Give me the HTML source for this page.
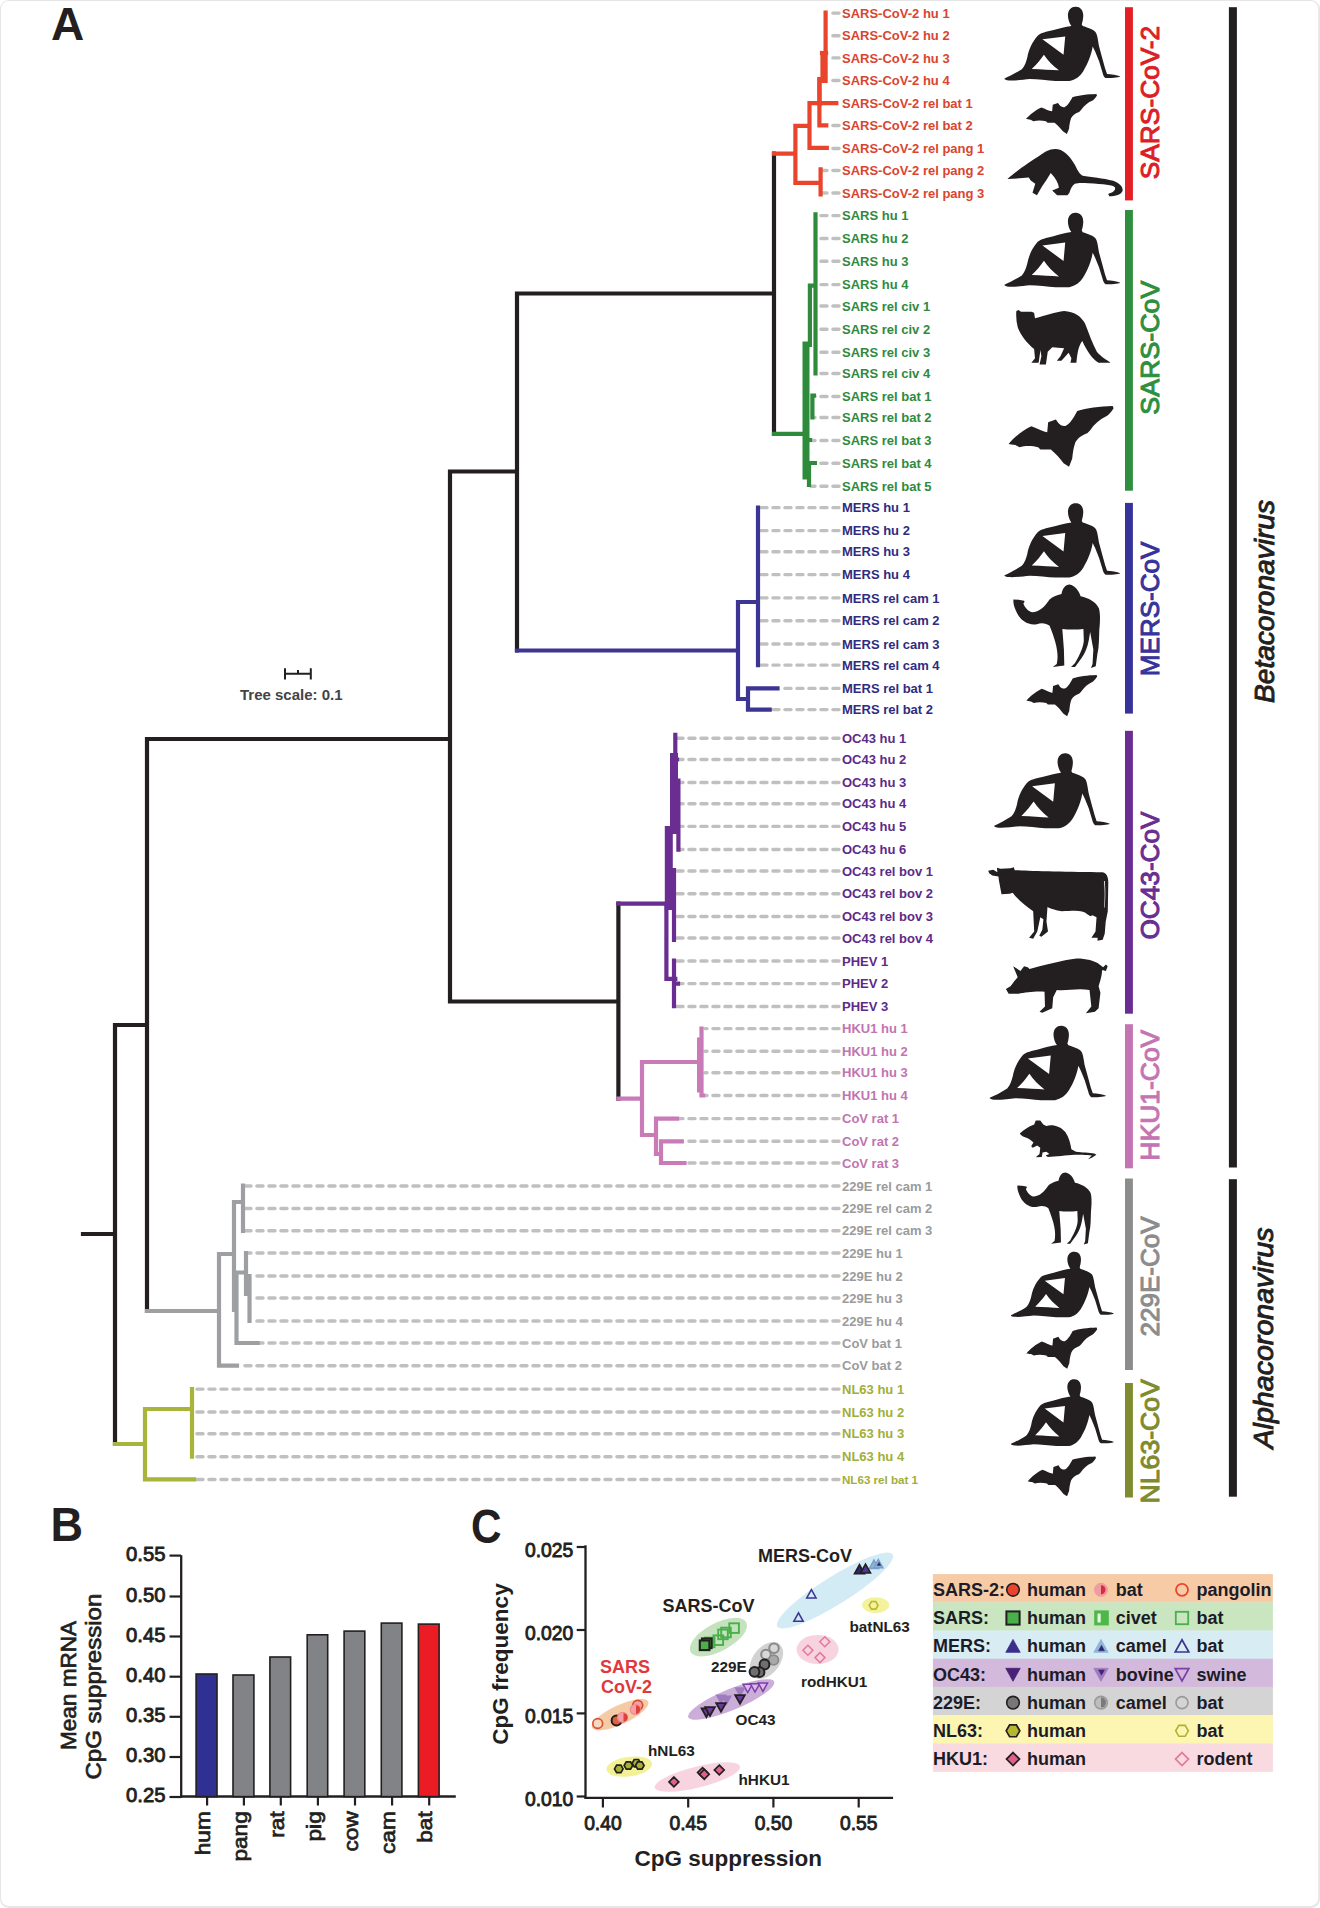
<!DOCTYPE html>
<html><head><meta charset="utf-8"><style>
html,body{margin:0;padding:0;background:#fff;}
svg{display:block;font-family:"Liberation Sans", sans-serif;}
</style></head><body>
<svg width="1320" height="1908" viewBox="0 0 1320 1908">
<rect x="0" y="0" width="1320" height="1908" rx="9" ry="9" fill="#e6e6e6"/>
<rect x="1" y="1" width="1317.2" height="1905" rx="8" ry="8" fill="#fff"/>
<text x="51" y="40" font-size="46" font-weight="bold" fill="#231f20" text-anchor="start" >A</text>
<text transform="translate(50.5,1540.8) scale(0.93,1)" font-size="48.5" font-weight="bold" fill="#231f20">B</text>
<text transform="translate(471,1542.8) scale(0.88,1)" font-size="48" font-weight="bold" fill="#231f20">C</text>
<path d="M839,13.1 H828" stroke="#c0c0c0" stroke-width="3.4" stroke-linecap="round" stroke-dasharray="6.1 5.9" fill="none"/>
<path d="M839,35.8 H828" stroke="#c0c0c0" stroke-width="3.4" stroke-linecap="round" stroke-dasharray="6.1 5.9" fill="none"/>
<path d="M839,57.9 H828" stroke="#c0c0c0" stroke-width="3.4" stroke-linecap="round" stroke-dasharray="6.1 5.9" fill="none"/>
<path d="M839,80.5 H828" stroke="#c0c0c0" stroke-width="3.4" stroke-linecap="round" stroke-dasharray="6.1 5.9" fill="none"/>
<path d="M839,125.5 H828" stroke="#c0c0c0" stroke-width="3.4" stroke-linecap="round" stroke-dasharray="6.1 5.9" fill="none"/>
<path d="M839,148.5 H828" stroke="#c0c0c0" stroke-width="3.4" stroke-linecap="round" stroke-dasharray="6.1 5.9" fill="none"/>
<path d="M839,170.5 H822" stroke="#c0c0c0" stroke-width="3.4" stroke-linecap="round" stroke-dasharray="6.1 5.9" fill="none"/>
<path d="M839,193 H822" stroke="#c0c0c0" stroke-width="3.4" stroke-linecap="round" stroke-dasharray="6.1 5.9" fill="none"/>
<path d="M839,215.6 H817.5" stroke="#c0c0c0" stroke-width="3.4" stroke-linecap="round" stroke-dasharray="6.1 5.9" fill="none"/>
<path d="M839,238.5 H817.5" stroke="#c0c0c0" stroke-width="3.4" stroke-linecap="round" stroke-dasharray="6.1 5.9" fill="none"/>
<path d="M839,261.3 H817.5" stroke="#c0c0c0" stroke-width="3.4" stroke-linecap="round" stroke-dasharray="6.1 5.9" fill="none"/>
<path d="M839,284.6 H817.5" stroke="#c0c0c0" stroke-width="3.4" stroke-linecap="round" stroke-dasharray="6.1 5.9" fill="none"/>
<path d="M839,306 H817.5" stroke="#c0c0c0" stroke-width="3.4" stroke-linecap="round" stroke-dasharray="6.1 5.9" fill="none"/>
<path d="M839,329.2 H817.5" stroke="#c0c0c0" stroke-width="3.4" stroke-linecap="round" stroke-dasharray="6.1 5.9" fill="none"/>
<path d="M839,352.3 H817.5" stroke="#c0c0c0" stroke-width="3.4" stroke-linecap="round" stroke-dasharray="6.1 5.9" fill="none"/>
<path d="M839,373.5 H817.5" stroke="#c0c0c0" stroke-width="3.4" stroke-linecap="round" stroke-dasharray="6.1 5.9" fill="none"/>
<path d="M839,396.5 H814" stroke="#c0c0c0" stroke-width="3.4" stroke-linecap="round" stroke-dasharray="6.1 5.9" fill="none"/>
<path d="M839,417.5 H814" stroke="#c0c0c0" stroke-width="3.4" stroke-linecap="round" stroke-dasharray="6.1 5.9" fill="none"/>
<path d="M839,440.5 H811" stroke="#c0c0c0" stroke-width="3.4" stroke-linecap="round" stroke-dasharray="6.1 5.9" fill="none"/>
<path d="M839,463.2 H815" stroke="#c0c0c0" stroke-width="3.4" stroke-linecap="round" stroke-dasharray="6.1 5.9" fill="none"/>
<path d="M839,486.2 H811" stroke="#c0c0c0" stroke-width="3.4" stroke-linecap="round" stroke-dasharray="6.1 5.9" fill="none"/>
<path d="M839,507.6 H760" stroke="#c0c0c0" stroke-width="3.4" stroke-linecap="round" stroke-dasharray="6.1 5.9" fill="none"/>
<path d="M839,530.6 H760" stroke="#c0c0c0" stroke-width="3.4" stroke-linecap="round" stroke-dasharray="6.1 5.9" fill="none"/>
<path d="M839,551.8 H760" stroke="#c0c0c0" stroke-width="3.4" stroke-linecap="round" stroke-dasharray="6.1 5.9" fill="none"/>
<path d="M839,574.6 H760" stroke="#c0c0c0" stroke-width="3.4" stroke-linecap="round" stroke-dasharray="6.1 5.9" fill="none"/>
<path d="M839,597.9 H760" stroke="#c0c0c0" stroke-width="3.4" stroke-linecap="round" stroke-dasharray="6.1 5.9" fill="none"/>
<path d="M839,620.8 H760" stroke="#c0c0c0" stroke-width="3.4" stroke-linecap="round" stroke-dasharray="6.1 5.9" fill="none"/>
<path d="M839,644 H760" stroke="#c0c0c0" stroke-width="3.4" stroke-linecap="round" stroke-dasharray="6.1 5.9" fill="none"/>
<path d="M839,665.1 H760" stroke="#c0c0c0" stroke-width="3.4" stroke-linecap="round" stroke-dasharray="6.1 5.9" fill="none"/>
<path d="M839,688.4 H779" stroke="#c0c0c0" stroke-width="3.4" stroke-linecap="round" stroke-dasharray="6.1 5.9" fill="none"/>
<path d="M839,709.6 H771" stroke="#c0c0c0" stroke-width="3.4" stroke-linecap="round" stroke-dasharray="6.1 5.9" fill="none"/>
<path d="M839,738.3 H677" stroke="#c0c0c0" stroke-width="3.4" stroke-linecap="round" stroke-dasharray="6.1 5.9" fill="none"/>
<path d="M839,759.5 H679" stroke="#c0c0c0" stroke-width="3.4" stroke-linecap="round" stroke-dasharray="6.1 5.9" fill="none"/>
<path d="M839,782.5 H680" stroke="#c0c0c0" stroke-width="3.4" stroke-linecap="round" stroke-dasharray="6.1 5.9" fill="none"/>
<path d="M839,803.7 H680" stroke="#c0c0c0" stroke-width="3.4" stroke-linecap="round" stroke-dasharray="6.1 5.9" fill="none"/>
<path d="M839,826.4 H680" stroke="#c0c0c0" stroke-width="3.4" stroke-linecap="round" stroke-dasharray="6.1 5.9" fill="none"/>
<path d="M839,849.5 H680" stroke="#c0c0c0" stroke-width="3.4" stroke-linecap="round" stroke-dasharray="6.1 5.9" fill="none"/>
<path d="M839,871 H677" stroke="#c0c0c0" stroke-width="3.4" stroke-linecap="round" stroke-dasharray="6.1 5.9" fill="none"/>
<path d="M839,893.8 H677" stroke="#c0c0c0" stroke-width="3.4" stroke-linecap="round" stroke-dasharray="6.1 5.9" fill="none"/>
<path d="M839,916.5 H677" stroke="#c0c0c0" stroke-width="3.4" stroke-linecap="round" stroke-dasharray="6.1 5.9" fill="none"/>
<path d="M839,938 H677" stroke="#c0c0c0" stroke-width="3.4" stroke-linecap="round" stroke-dasharray="6.1 5.9" fill="none"/>
<path d="M839,961 H677" stroke="#c0c0c0" stroke-width="3.4" stroke-linecap="round" stroke-dasharray="6.1 5.9" fill="none"/>
<path d="M839,983.6 H680" stroke="#c0c0c0" stroke-width="3.4" stroke-linecap="round" stroke-dasharray="6.1 5.9" fill="none"/>
<path d="M839,1006.5 H677" stroke="#c0c0c0" stroke-width="3.4" stroke-linecap="round" stroke-dasharray="6.1 5.9" fill="none"/>
<path d="M839,1028.6 H705" stroke="#c0c0c0" stroke-width="3.4" stroke-linecap="round" stroke-dasharray="6.1 5.9" fill="none"/>
<path d="M839,1051.3 H705" stroke="#c0c0c0" stroke-width="3.4" stroke-linecap="round" stroke-dasharray="6.1 5.9" fill="none"/>
<path d="M839,1072.8 H705" stroke="#c0c0c0" stroke-width="3.4" stroke-linecap="round" stroke-dasharray="6.1 5.9" fill="none"/>
<path d="M839,1095.5 H705" stroke="#c0c0c0" stroke-width="3.4" stroke-linecap="round" stroke-dasharray="6.1 5.9" fill="none"/>
<path d="M839,1118.6 H679" stroke="#c0c0c0" stroke-width="3.4" stroke-linecap="round" stroke-dasharray="6.1 5.9" fill="none"/>
<path d="M839,1141.3 H683" stroke="#c0c0c0" stroke-width="3.4" stroke-linecap="round" stroke-dasharray="6.1 5.9" fill="none"/>
<path d="M839,1163 H686" stroke="#c0c0c0" stroke-width="3.4" stroke-linecap="round" stroke-dasharray="6.1 5.9" fill="none"/>
<path d="M839,1186 H245" stroke="#c0c0c0" stroke-width="3.4" stroke-linecap="round" stroke-dasharray="6.1 5.9" fill="none"/>
<path d="M839,1208.5 H245" stroke="#c0c0c0" stroke-width="3.4" stroke-linecap="round" stroke-dasharray="6.1 5.9" fill="none"/>
<path d="M839,1230.8 H245" stroke="#c0c0c0" stroke-width="3.4" stroke-linecap="round" stroke-dasharray="6.1 5.9" fill="none"/>
<path d="M839,1253 H248" stroke="#c0c0c0" stroke-width="3.4" stroke-linecap="round" stroke-dasharray="6.1 5.9" fill="none"/>
<path d="M839,1276 H251" stroke="#c0c0c0" stroke-width="3.4" stroke-linecap="round" stroke-dasharray="6.1 5.9" fill="none"/>
<path d="M839,1298 H252" stroke="#c0c0c0" stroke-width="3.4" stroke-linecap="round" stroke-dasharray="6.1 5.9" fill="none"/>
<path d="M839,1321 H252" stroke="#c0c0c0" stroke-width="3.4" stroke-linecap="round" stroke-dasharray="6.1 5.9" fill="none"/>
<path d="M839,1343 H259" stroke="#c0c0c0" stroke-width="3.4" stroke-linecap="round" stroke-dasharray="6.1 5.9" fill="none"/>
<path d="M839,1365.7 H239" stroke="#c0c0c0" stroke-width="3.4" stroke-linecap="round" stroke-dasharray="6.1 5.9" fill="none"/>
<path d="M839,1389.1 H195" stroke="#c0c0c0" stroke-width="3.4" stroke-linecap="round" stroke-dasharray="6.1 5.9" fill="none"/>
<path d="M839,1412 H195" stroke="#c0c0c0" stroke-width="3.4" stroke-linecap="round" stroke-dasharray="6.1 5.9" fill="none"/>
<path d="M839,1433.8 H195" stroke="#c0c0c0" stroke-width="3.4" stroke-linecap="round" stroke-dasharray="6.1 5.9" fill="none"/>
<path d="M839,1456.7 H195" stroke="#c0c0c0" stroke-width="3.4" stroke-linecap="round" stroke-dasharray="6.1 5.9" fill="none"/>
<path d="M839,1479.5 H197" stroke="#c0c0c0" stroke-width="3.4" stroke-linecap="round" stroke-dasharray="6.1 5.9" fill="none"/>
<text x="842" y="17.7" font-size="13" font-weight="bold" fill="#d9452f">SARS-CoV-2 hu 1</text>
<text x="842" y="40.4" font-size="13" font-weight="bold" fill="#d9452f">SARS-CoV-2 hu 2</text>
<text x="842" y="62.5" font-size="13" font-weight="bold" fill="#d9452f">SARS-CoV-2 hu 3</text>
<text x="842" y="85.1" font-size="13" font-weight="bold" fill="#d9452f">SARS-CoV-2 hu 4</text>
<text x="842" y="108.4" font-size="13" font-weight="bold" fill="#d9452f">SARS-CoV-2 rel bat 1</text>
<text x="842" y="130.1" font-size="13" font-weight="bold" fill="#d9452f">SARS-CoV-2 rel bat 2</text>
<text x="842" y="153.1" font-size="13" font-weight="bold" fill="#d9452f">SARS-CoV-2 rel pang 1</text>
<text x="842" y="175.1" font-size="13" font-weight="bold" fill="#d9452f">SARS-CoV-2 rel pang 2</text>
<text x="842" y="197.6" font-size="13" font-weight="bold" fill="#d9452f">SARS-CoV-2 rel pang 3</text>
<text x="842" y="220.2" font-size="13" font-weight="bold" fill="#2f8a3d">SARS hu 1</text>
<text x="842" y="243.1" font-size="13" font-weight="bold" fill="#2f8a3d">SARS hu 2</text>
<text x="842" y="265.9" font-size="13" font-weight="bold" fill="#2f8a3d">SARS hu 3</text>
<text x="842" y="289.2" font-size="13" font-weight="bold" fill="#2f8a3d">SARS hu 4</text>
<text x="842" y="310.6" font-size="13" font-weight="bold" fill="#2f8a3d">SARS rel civ 1</text>
<text x="842" y="333.8" font-size="13" font-weight="bold" fill="#2f8a3d">SARS rel civ 2</text>
<text x="842" y="356.9" font-size="13" font-weight="bold" fill="#2f8a3d">SARS rel civ 3</text>
<text x="842" y="378.1" font-size="13" font-weight="bold" fill="#2f8a3d">SARS rel civ 4</text>
<text x="842" y="401.1" font-size="13" font-weight="bold" fill="#2f8a3d">SARS rel bat 1</text>
<text x="842" y="422.1" font-size="13" font-weight="bold" fill="#2f8a3d">SARS rel bat 2</text>
<text x="842" y="445.1" font-size="13" font-weight="bold" fill="#2f8a3d">SARS rel bat 3</text>
<text x="842" y="467.8" font-size="13" font-weight="bold" fill="#2f8a3d">SARS rel bat 4</text>
<text x="842" y="490.8" font-size="13" font-weight="bold" fill="#2f8a3d">SARS rel bat 5</text>
<text x="842" y="512.2" font-size="13" font-weight="bold" fill="#302b80">MERS hu 1</text>
<text x="842" y="535.2" font-size="13" font-weight="bold" fill="#302b80">MERS hu 2</text>
<text x="842" y="556.4" font-size="13" font-weight="bold" fill="#302b80">MERS hu 3</text>
<text x="842" y="579.2" font-size="13" font-weight="bold" fill="#302b80">MERS hu 4</text>
<text x="842" y="602.5" font-size="13" font-weight="bold" fill="#302b80">MERS rel cam 1</text>
<text x="842" y="625.4" font-size="13" font-weight="bold" fill="#302b80">MERS rel cam 2</text>
<text x="842" y="648.6" font-size="13" font-weight="bold" fill="#302b80">MERS rel cam 3</text>
<text x="842" y="669.7" font-size="13" font-weight="bold" fill="#302b80">MERS rel cam 4</text>
<text x="842" y="693.0" font-size="13" font-weight="bold" fill="#302b80">MERS rel bat 1</text>
<text x="842" y="714.2" font-size="13" font-weight="bold" fill="#302b80">MERS rel bat 2</text>
<text x="842" y="742.9" font-size="13" font-weight="bold" fill="#5e2a88">OC43 hu 1</text>
<text x="842" y="764.1" font-size="13" font-weight="bold" fill="#5e2a88">OC43 hu 2</text>
<text x="842" y="787.1" font-size="13" font-weight="bold" fill="#5e2a88">OC43 hu 3</text>
<text x="842" y="808.3" font-size="13" font-weight="bold" fill="#5e2a88">OC43 hu 4</text>
<text x="842" y="831.0" font-size="13" font-weight="bold" fill="#5e2a88">OC43 hu 5</text>
<text x="842" y="854.1" font-size="13" font-weight="bold" fill="#5e2a88">OC43 hu 6</text>
<text x="842" y="875.6" font-size="13" font-weight="bold" fill="#5e2a88">OC43 rel bov 1</text>
<text x="842" y="898.4" font-size="13" font-weight="bold" fill="#5e2a88">OC43 rel bov 2</text>
<text x="842" y="921.1" font-size="13" font-weight="bold" fill="#5e2a88">OC43 rel bov 3</text>
<text x="842" y="942.6" font-size="13" font-weight="bold" fill="#5e2a88">OC43 rel bov 4</text>
<text x="842" y="965.6" font-size="13" font-weight="bold" fill="#5e2a88">PHEV 1</text>
<text x="842" y="988.2" font-size="13" font-weight="bold" fill="#5e2a88">PHEV 2</text>
<text x="842" y="1011.1" font-size="13" font-weight="bold" fill="#5e2a88">PHEV 3</text>
<text x="842" y="1033.2" font-size="13" font-weight="bold" fill="#c274b0">HKU1 hu 1</text>
<text x="842" y="1055.9" font-size="13" font-weight="bold" fill="#c274b0">HKU1 hu 2</text>
<text x="842" y="1077.4" font-size="13" font-weight="bold" fill="#c274b0">HKU1 hu 3</text>
<text x="842" y="1100.1" font-size="13" font-weight="bold" fill="#c274b0">HKU1 hu 4</text>
<text x="842" y="1123.2" font-size="13" font-weight="bold" fill="#c274b0">CoV rat 1</text>
<text x="842" y="1145.9" font-size="13" font-weight="bold" fill="#c274b0">CoV rat 2</text>
<text x="842" y="1167.6" font-size="13" font-weight="bold" fill="#c274b0">CoV rat 3</text>
<text x="842" y="1190.6" font-size="13" font-weight="bold" fill="#9b9b9b">229E rel cam 1</text>
<text x="842" y="1213.1" font-size="13" font-weight="bold" fill="#9b9b9b">229E rel cam 2</text>
<text x="842" y="1235.4" font-size="13" font-weight="bold" fill="#9b9b9b">229E rel cam 3</text>
<text x="842" y="1257.6" font-size="13" font-weight="bold" fill="#9b9b9b">229E hu 1</text>
<text x="842" y="1280.6" font-size="13" font-weight="bold" fill="#9b9b9b">229E hu 2</text>
<text x="842" y="1302.6" font-size="13" font-weight="bold" fill="#9b9b9b">229E hu 3</text>
<text x="842" y="1325.6" font-size="13" font-weight="bold" fill="#9b9b9b">229E hu 4</text>
<text x="842" y="1347.6" font-size="13" font-weight="bold" fill="#9b9b9b">CoV bat 1</text>
<text x="842" y="1370.3" font-size="13" font-weight="bold" fill="#9b9b9b">CoV bat 2</text>
<text x="842" y="1393.7" font-size="13" font-weight="bold" fill="#a2ae3a">NL63 hu 1</text>
<text x="842" y="1416.6" font-size="13" font-weight="bold" fill="#a2ae3a">NL63 hu 2</text>
<text x="842" y="1438.4" font-size="13" font-weight="bold" fill="#a2ae3a">NL63 hu 3</text>
<text x="842" y="1461.3" font-size="13" font-weight="bold" fill="#a2ae3a">NL63 hu 4</text>
<text x="842" y="1484.1" font-size="11.6" font-weight="bold" fill="#a2ae3a">NL63 rel bat 1</text>
<path d="M83,1234 H115 M115,1025 V1444 M115,1025 H147 M147,739 V1311 M147,739 H450 M450,471.5 V1001.5 M450,471.5 H517 M517,293.5 V650.5 M517,293.5 H774 M774,153.6 V433.9 M450,1001.5 H618.4 M618.4,903.6 V1098.7" fill="none" stroke="#231f20" stroke-width="4.2" stroke-linecap="square" stroke-linejoin="miter" />
<path d="M774,153.6 H795.4 M795.4,125.8 V182.9 M795.4,125.8 H809.5 M809.5,103.2 V147.8 M809.5,147.8 H826.8 M809.5,103.2 H819.4 M819.4,79.7 V125.3 M819.4,103.2 H836.3 M819.4,125.3 H826.3 M795.4,182.9 H820.6 M820.6,169.3 V194.4" fill="none" stroke="#e8452c" stroke-width="4.2" stroke-linecap="square" stroke-linejoin="miter" />
<path d="M825.6,12.5 V81 M822.5,53 V81 M819.5,79 V104" fill="none" stroke="#e8452c" stroke-width="4.2" stroke-linecap="square" stroke-linejoin="miter" />
<path d="M822,53 H826" fill="none" stroke="#e8452c" stroke-width="4.2" stroke-linecap="square" stroke-linejoin="miter" />
<path d="M774,433.9 H802.3 M815.5,214.4 V373.5 M809.9,285.7 V345 M809.9,285.7 H815.5 M812.4,395.5 V417.5 M812.4,395.5 H814 M806,440 H810 M806,463 H814.9 M809,464 V485" fill="none" stroke="#2e8b3c" stroke-width="4.2" stroke-linecap="square" stroke-linejoin="miter" />
<path d="M806,345 V476" fill="none" stroke="#2e8b3c" stroke-width="7" stroke-linecap="square" stroke-linejoin="miter" stroke-linecap="butt"/>
<path d="M517,650.5 H738 M738,602 V699 M738,602 H758 M758,507.6 V665.1 M738,699 H748 M748,688.4 V709.6 M748,688.4 H777.5 M748,709.6 H769.7" fill="none" stroke="#3d3592" stroke-width="4.2" stroke-linecap="square" stroke-linejoin="miter" />
<path d="M618.4,903.6 H666 M666.4,906 V978.8 M666.4,978.8 H675.3 M674,960.6 V1006.2 M675.3,734.9 V757 M678.4,780.5 V849.6 M674,870 V940 M674,983.6 H678 M674,759.5 H677" fill="none" stroke="#6a2d91" stroke-width="4.2" stroke-linecap="square" stroke-linejoin="miter" />
<path d="M668.8,830 V906" fill="none" stroke="#6a2d91" stroke-width="8" stroke-linecap="square" stroke-linejoin="miter" stroke-linecap="butt"/>
<path d="M674,757 V830" fill="none" stroke="#6a2d91" stroke-width="8" stroke-linecap="square" stroke-linejoin="miter" stroke-linecap="butt"/>
<path d="M618.4,1098.7 H642 M642,1062 V1135 M642,1062 H700 M701.5,1028.6 V1095.5 M701.5,1095.5 H703 M642,1135 H656 M656,1118.6 V1154 M656,1118.6 H677 M656,1154 H661 M661,1141.3 V1163 M661,1141.3 H681.8 M661,1163 H684.5" fill="none" stroke="#c97bb7" stroke-width="4.2" stroke-linecap="square" stroke-linejoin="miter" />
<path d="M699.5,1040 V1060 M699.5,1066 V1090" fill="none" stroke="#c97bb7" stroke-width="5" stroke-linecap="square" stroke-linejoin="miter" stroke-linecap="butt"/>
<path d="M147,1311 H219 M219,1254 V1365.7 M219,1254 H234 M234,1202 V1310 M234,1202 H243 M243,1185.7 V1231 M236.5,1272.5 V1343 M236.5,1272.5 H246 M246,1253 V1294 M249.5,1276 V1321 M236.5,1343 H257.7 M219,1365.7 H237" fill="none" stroke="#9d9fa2" stroke-width="4.2" stroke-linecap="square" stroke-linejoin="miter" />
<path d="M115,1444 H145 M145,1409 V1479.3 M145,1409 H192 M192,1389 V1456.6 M145,1479.3 H194" fill="none" stroke="#a9b43a" stroke-width="4.2" stroke-linecap="square" stroke-linejoin="miter" />
<path d="M285,668.3 V679.6 M310.8,668.3 V679.6 M285,673.7 H310.8 M298,670 V673.7" stroke="#231f20" stroke-width="2" fill="none"/>
<text x="240" y="699.8" font-size="15" font-weight="bold" fill="#444">Tree scale: 0.1</text>
<g transform="translate(1000.042,0.298) scale(0.09906,0.09842)"><path d="M760,65 C810,62 842,100 840,160 C838,200 830,225 825,245 L835,262 C880,275 950,300 968,330 C985,360 990,420 1000,470 L1030,580 L1060,690 L1080,750 C1120,752 1180,760 1215,775 C1190,790 1120,790 1065,790 C1050,780 1040,760 1035,735 L1000,620 L960,520 L935,470 C925,540 890,640 840,720 C810,770 760,810 700,820 L560,820 C480,815 380,800 300,800 C240,805 150,820 90,815 C60,812 40,805 45,795 C90,775 160,740 220,700 C250,670 265,620 275,580 C290,500 320,430 380,360 C410,330 470,320 530,305 C600,285 660,268 720,260 C700,235 685,190 685,150 C688,95 720,65 760,65 Z" fill="#231f20"/><path d="M428,397 L658,367 L641,554 Z M443,552 C480,610 540,670 595,712 C520,708 420,700 320,697 C370,650 410,600 443,552 Z" fill="#fff"/></g>
<g transform="translate(1000.042,206.390) scale(0.09906,0.09855)"><path d="M760,65 C810,62 842,100 840,160 C838,200 830,225 825,245 L835,262 C880,275 950,300 968,330 C985,360 990,420 1000,470 L1030,580 L1060,690 L1080,750 C1120,752 1180,760 1215,775 C1190,790 1120,790 1065,790 C1050,780 1040,760 1035,735 L1000,620 L960,520 L935,470 C925,540 890,640 840,720 C810,770 760,810 700,820 L560,820 C480,815 380,800 300,800 C240,805 150,820 90,815 C60,812 40,805 45,795 C90,775 160,740 220,700 C250,670 265,620 275,580 C290,500 320,430 380,360 C410,330 470,320 530,305 C600,285 660,268 720,260 C700,235 685,190 685,150 C688,95 720,65 760,65 Z" fill="#231f20"/><path d="M428,397 L658,367 L641,554 Z M443,552 C480,610 540,670 595,712 C520,708 420,700 320,697 C370,650 410,600 443,552 Z" fill="#fff"/></g>
<g transform="translate(1000.042,496.790) scale(0.09906,0.09855)"><path d="M760,65 C810,62 842,100 840,160 C838,200 830,225 825,245 L835,262 C880,275 950,300 968,330 C985,360 990,420 1000,470 L1030,580 L1060,690 L1080,750 C1120,752 1180,760 1215,775 C1190,790 1120,790 1065,790 C1050,780 1040,760 1035,735 L1000,620 L960,520 L935,470 C925,540 890,640 840,720 C810,770 760,810 700,820 L560,820 C480,815 380,800 300,800 C240,805 150,820 90,815 C60,812 40,805 45,795 C90,775 160,740 220,700 C250,670 265,620 275,580 C290,500 320,430 380,360 C410,330 470,320 530,305 C600,285 660,268 720,260 C700,235 685,190 685,150 C688,95 720,65 760,65 Z" fill="#231f20"/><path d="M428,397 L658,367 L641,554 Z M443,552 C480,610 540,670 595,712 C520,708 420,700 320,697 C370,650 410,600 443,552 Z" fill="#fff"/></g>
<g transform="translate(989.746,746.849) scale(0.09897,0.09921)"><path d="M760,65 C810,62 842,100 840,160 C838,200 830,225 825,245 L835,262 C880,275 950,300 968,330 C985,360 990,420 1000,470 L1030,580 L1060,690 L1080,750 C1120,752 1180,760 1215,775 C1190,790 1120,790 1065,790 C1050,780 1040,760 1035,735 L1000,620 L960,520 L935,470 C925,540 890,640 840,720 C810,770 760,810 700,820 L560,820 C480,815 380,800 300,800 C240,805 150,820 90,815 C60,812 40,805 45,795 C90,775 160,740 220,700 C250,670 265,620 275,580 C290,500 320,430 380,360 C410,330 470,320 530,305 C600,285 660,268 720,260 C700,235 685,190 685,150 C688,95 720,65 760,65 Z" fill="#231f20"/><path d="M428,397 L658,367 L641,554 Z M443,552 C480,610 540,670 595,712 C520,708 420,700 320,697 C370,650 410,600 443,552 Z" fill="#fff"/></g>
<g transform="translate(985.323,1019.390) scale(0.09949,0.09855)"><path d="M760,65 C810,62 842,100 840,160 C838,200 830,225 825,245 L835,262 C880,275 950,300 968,330 C985,360 990,420 1000,470 L1030,580 L1060,690 L1080,750 C1120,752 1180,760 1215,775 C1190,790 1120,790 1065,790 C1050,780 1040,760 1035,735 L1000,620 L960,520 L935,470 C925,540 890,640 840,720 C810,770 760,810 700,820 L560,820 C480,815 380,800 300,800 C240,805 150,820 90,815 C60,812 40,805 45,795 C90,775 160,740 220,700 C250,670 265,620 275,580 C290,500 320,430 380,360 C410,330 470,320 530,305 C600,285 660,268 720,260 C700,235 685,190 685,150 C688,95 720,65 760,65 Z" fill="#231f20"/><path d="M428,397 L658,367 L641,554 Z M443,552 C480,610 540,670 595,712 C520,708 420,700 320,697 C370,650 410,600 443,552 Z" fill="#fff"/></g>
<g transform="translate(1007.038,1246.226) scale(0.08803,0.08668)"><path d="M760,65 C810,62 842,100 840,160 C838,200 830,225 825,245 L835,262 C880,275 950,300 968,330 C985,360 990,420 1000,470 L1030,580 L1060,690 L1080,750 C1120,752 1180,760 1215,775 C1190,790 1120,790 1065,790 C1050,780 1040,760 1035,735 L1000,620 L960,520 L935,470 C925,540 890,640 840,720 C810,770 760,810 700,820 L560,820 C480,815 380,800 300,800 C240,805 150,820 90,815 C60,812 40,805 45,795 C90,775 160,740 220,700 C250,670 265,620 275,580 C290,500 320,430 380,360 C410,330 470,320 530,305 C600,285 660,268 720,260 C700,235 685,190 685,150 C688,95 720,65 760,65 Z" fill="#231f20"/><path d="M428,397 L658,367 L641,554 Z M443,552 C480,610 540,670 595,712 C520,708 420,700 320,697 C370,650 410,600 443,552 Z" fill="#fff"/></g>
<g transform="translate(1007.038,1373.520) scale(0.08803,0.08839)"><path d="M760,65 C810,62 842,100 840,160 C838,200 830,225 825,245 L835,262 C880,275 950,300 968,330 C985,360 990,420 1000,470 L1030,580 L1060,690 L1080,750 C1120,752 1180,760 1215,775 C1190,790 1120,790 1065,790 C1050,780 1040,760 1035,735 L1000,620 L960,520 L935,470 C925,540 890,640 840,720 C810,770 760,810 700,820 L560,820 C480,815 380,800 300,800 C240,805 150,820 90,815 C60,812 40,805 45,795 C90,775 160,740 220,700 C250,670 265,620 275,580 C290,500 320,430 380,360 C410,330 470,320 530,305 C600,285 660,268 720,260 C700,235 685,190 685,150 C688,95 720,65 760,65 Z" fill="#231f20"/><path d="M428,397 L658,367 L641,554 Z M443,552 C480,610 540,670 595,712 C520,708 420,700 320,697 C370,650 410,600 443,552 Z" fill="#fff"/></g>
<g transform="translate(1020.160,86.836) scale(0.06147,0.05970)"><path d="M95,540 C150,470 250,390 345,345 L400,365 C440,385 490,405 520,410 L530,300 L615,270 L640,305 C660,330 690,345 720,340 C770,320 810,250 850,175 C950,140 1100,125 1240,120 L1250,145 C1220,190 1190,225 1170,235 C1100,265 1040,320 990,390 L960,420 C900,440 850,480 830,520 C810,570 800,640 795,700 L760,790 L700,750 C660,700 620,650 560,600 L445,600 L420,575 C360,560 280,555 215,575 L170,550 C140,545 110,545 95,540 Z" fill="#231f20"/></g>
<g transform="translate(999.964,394.993) scale(0.09091,0.09090)"><path d="M95,540 C150,470 250,390 345,345 L400,365 C440,385 490,405 520,410 L530,300 L615,270 L640,305 C660,330 690,345 720,340 C770,320 810,250 850,175 C950,140 1100,125 1240,120 L1250,145 C1220,190 1190,225 1170,235 C1100,265 1040,320 990,390 L960,420 C900,440 850,480 830,520 C810,570 800,640 795,700 L760,790 L700,750 C660,700 620,650 560,600 L445,600 L420,575 C360,560 280,555 215,575 L170,550 C140,545 110,545 95,540 Z" fill="#231f20"/></g>
<g transform="translate(1020.577,667.621) scale(0.06130,0.06149)"><path d="M95,540 C150,470 250,390 345,345 L400,365 C440,385 490,405 520,410 L530,300 L615,270 L640,305 C660,330 690,345 720,340 C770,320 810,250 850,175 C950,140 1100,125 1240,120 L1250,145 C1220,190 1190,225 1170,235 C1100,265 1040,320 990,390 L960,420 C900,440 850,480 830,520 C810,570 800,640 795,700 L760,790 L700,750 C660,700 620,650 560,600 L445,600 L420,575 C360,560 280,555 215,575 L170,550 C140,545 110,545 95,540 Z" fill="#231f20"/></g>
<g transform="translate(1020.577,1320.221) scale(0.06130,0.06149)"><path d="M95,540 C150,470 250,390 345,345 L400,365 C440,385 490,405 520,410 L530,300 L615,270 L640,305 C660,330 690,345 720,340 C770,320 810,250 850,175 C950,140 1100,125 1240,120 L1250,145 C1220,190 1190,225 1170,235 C1100,265 1040,320 990,390 L960,420 C900,440 850,480 830,520 C810,570 800,640 795,700 L760,790 L700,750 C660,700 620,650 560,600 L445,600 L420,575 C360,560 280,555 215,575 L170,550 C140,545 110,545 95,540 Z" fill="#231f20"/></g>
<g transform="translate(1022.082,1449.254) scale(0.05913,0.05955)"><path d="M95,540 C150,470 250,390 345,345 L400,365 C440,385 490,405 520,410 L530,300 L615,270 L640,305 C660,330 690,345 720,340 C770,320 810,250 850,175 C950,140 1100,125 1240,120 L1250,145 C1220,190 1190,225 1170,235 C1100,265 1040,320 990,390 L960,420 C900,440 850,480 830,520 C810,570 800,640 795,700 L760,790 L700,750 C660,700 620,650 560,600 L445,600 L420,575 C360,560 280,555 215,575 L170,550 C140,545 110,545 95,540 Z" fill="#231f20"/></g>
<g transform="translate(1000.015,140.050) scale(0.09847,0.09833)"><path d="M75,395 C150,330 300,220 400,160 C450,120 500,92 560,90 C640,90 700,150 760,250 C790,310 805,340 840,362 C920,378 1050,385 1150,415 C1220,440 1250,485 1245,515 C1235,555 1170,572 1110,572 L1098,548 C1150,535 1175,510 1168,482 C1150,458 1050,448 900,440 C830,436 790,436 760,445 C730,465 715,505 705,535 L685,562 L580,562 L530,512 L598,485 C592,435 565,385 515,335 C485,385 450,440 425,475 L375,562 L330,535 L358,445 L312,412 L292,382 C220,388 140,395 75,395 Z" fill="#231f20"/></g>
<g transform="translate(1004.985,300.008) scale(0.09096,0.09083)"><path d="M125,120 L150,110 L175,130 L290,130 L320,140 L330,200 C450,170 550,130 650,120 C760,125 840,180 880,260 C920,360 960,480 1010,570 C1060,630 1120,660 1160,690 L1030,690 C960,650 900,560 850,450 C810,500 795,580 785,690 L720,690 L730,640 L700,580 L620,670 L570,670 L610,620 L650,530 L520,520 L470,570 L450,710 L380,710 L400,620 L390,550 L370,690 L290,690 L330,640 L320,540 C250,480 170,390 140,300 C125,240 120,180 125,120 Z" fill="#231f20"/></g>
<g transform="translate(1005.045,578.038) scale(0.07955,0.07952)"><path d="M105,270 L170,272 L240,285 L245,300 L230,320 C250,370 290,420 340,430 C430,430 500,360 560,270 C590,235 650,215 710,200 C720,130 760,80 810,80 C880,90 930,160 950,230 C1050,250 1140,300 1180,380 C1200,450 1195,560 1185,650 C1180,750 1185,860 1160,960 L1140,1110 L1080,1130 L1100,1080 L1110,900 L1070,680 C1050,800 1040,900 960,1010 L880,1120 L830,1120 L880,1070 C950,950 990,850 990,780 L985,640 C900,650 800,650 720,640 L740,900 L745,1100 L600,1120 L650,1080 C680,950 640,800 560,600 C520,570 460,560 400,580 C300,600 200,540 150,440 C120,380 100,320 105,270 Z" fill="#231f20"/></g>
<g transform="translate(1010.182,1167.014) scale(0.06818,0.06857)"><path d="M105,270 L170,272 L240,285 L245,300 L230,320 C250,370 290,420 340,430 C430,430 500,360 560,270 C590,235 650,215 710,200 C720,130 760,80 810,80 C880,90 930,160 950,230 C1050,250 1140,300 1180,380 C1200,450 1195,560 1185,650 C1180,750 1185,860 1160,960 L1140,1110 L1080,1130 L1100,1080 L1110,900 L1070,680 C1050,800 1040,900 960,1010 L880,1120 L830,1120 L880,1070 C950,950 990,850 990,780 L985,640 C900,650 800,650 720,640 L740,900 L745,1100 L600,1120 L650,1080 C680,950 640,800 560,600 C520,570 460,560 400,580 C300,600 200,540 150,440 C120,380 100,320 105,270 Z" fill="#231f20"/></g>
<g transform="translate(980.023,860.044) scale(0.10221,0.10222)"><path d="M80,105 L130,95 L170,120 L165,75 L200,85 L300,80 L330,70 L340,100 L380,100 C500,110 900,115 1200,120 C1240,130 1255,170 1255,220 L1250,500 L1230,600 L1220,720 L1200,780 L1150,790 L1150,760 L1090,760 L1130,700 L1140,560 L1100,540 L1080,550 L1050,530 C1000,480 900,500 800,500 C720,490 680,470 660,460 L650,600 L665,700 L600,750 L580,740 L610,680 L620,580 L590,560 L560,700 L520,770 L480,760 L530,700 L520,500 C450,450 370,390 320,320 L290,330 L210,335 L200,280 L185,200 L180,160 L120,150 L90,130 Z" fill="#231f20"/><path d="M1212,205 C1222,280 1222,380 1214,465 L1219,466 C1228,380 1228,280 1220,205 Z" fill="#fff"/></g>
<g transform="translate(994.993,949.955) scale(0.09089,0.09100)"><path d="M120,430 L170,400 C200,360 230,320 250,300 L200,180 L280,230 L320,180 L360,190 L380,210 C500,180 750,110 900,95 C1000,95 1100,120 1150,160 L1190,190 L1220,160 L1240,180 L1220,230 L1180,220 C1175,300 1150,360 1140,400 L1160,470 L1140,640 L1100,680 L1000,695 L1060,620 L1040,440 C900,420 800,450 680,440 L640,520 L630,640 L520,690 L490,680 L550,620 L545,460 C450,450 330,470 260,480 L150,480 Z" fill="#231f20"/></g>
<g transform="translate(1009.941,1110.004) scale(0.07584,0.07569)"><path d="M130,310 C180,260 260,210 320,190 L340,140 L400,140 L440,190 L480,210 C560,185 660,210 730,290 C780,360 800,450 810,520 L870,550 C950,560 1050,560 1110,575 L1140,590 L1080,630 L1030,650 L1080,600 C1000,595 900,590 850,590 C750,595 600,615 500,620 L470,600 L520,580 L480,550 L430,560 L420,620 L340,625 L390,580 L400,500 L360,470 L300,500 L280,480 L310,430 C280,400 250,375 200,360 C160,345 140,330 130,310 Z" fill="#231f20"/></g>
<rect x="1125" y="7.2" width="7.9" height="193.2" fill="#e31e24"/>
<rect x="1125" y="210" width="7.9" height="280.7" fill="#2e8f3e"/>
<rect x="1125" y="502.9" width="7.9" height="210.7" fill="#37339a"/>
<rect x="1125" y="730.8" width="7.9" height="282.9" fill="#6a2d91"/>
<rect x="1125" y="1024.2" width="7.9" height="144.1" fill="#c574b3"/>
<rect x="1125" y="1178.5" width="7.9" height="191.5" fill="#8c8c8c"/>
<rect x="1125" y="1383" width="7.9" height="114.5" fill="#7f8b2e"/>
<rect x="1228.9" y="7.2" width="8" height="1160.3" fill="#231f20"/>
<rect x="1228.9" y="1179.2" width="8" height="317.5" fill="#231f20"/>
<text transform="translate(1159.3,102.5) rotate(-90)" text-anchor="middle" font-size="25.8" font-weight="normal" stroke="#dc1f27" stroke-width="1.0" fill="#dc1f27" textLength="153.5" lengthAdjust="spacingAndGlyphs">SARS-CoV-2</text>
<text transform="translate(1159.3,347.7) rotate(-90)" text-anchor="middle" font-size="25.8" font-weight="normal" stroke="#2e8f3e" stroke-width="1.0" fill="#2e8f3e" textLength="133.9" lengthAdjust="spacingAndGlyphs">SARS-CoV</text>
<text transform="translate(1159.3,608.9) rotate(-90)" text-anchor="middle" font-size="25.8" font-weight="normal" stroke="#37339a" stroke-width="1.0" fill="#37339a" textLength="134.7" lengthAdjust="spacingAndGlyphs">MERS-CoV</text>
<text transform="translate(1159.3,875.5) rotate(-90)" text-anchor="middle" font-size="25.8" font-weight="normal" stroke="#6a2d91" stroke-width="1.0" fill="#6a2d91" textLength="128.2" lengthAdjust="spacingAndGlyphs">OC43-CoV</text>
<text transform="translate(1159.3,1095.2) rotate(-90)" text-anchor="middle" font-size="25.8" font-weight="normal" stroke="#c574b3" stroke-width="1.0" fill="#c574b3" textLength="130.9" lengthAdjust="spacingAndGlyphs">HKU1-CoV</text>
<text transform="translate(1159.3,1276.4) rotate(-90)" text-anchor="middle" font-size="25.8" font-weight="normal" stroke="#8c8c8c" stroke-width="1.0" fill="#8c8c8c" textLength="120.3" lengthAdjust="spacingAndGlyphs">229E-CoV</text>
<text transform="translate(1159.3,1441.3) rotate(-90)" text-anchor="middle" font-size="25.8" font-weight="normal" stroke="#7f8b2e" stroke-width="1.0" fill="#7f8b2e" textLength="124.3" lengthAdjust="spacingAndGlyphs">NL63-CoV</text>
<text transform="translate(1273.7,601.5) rotate(-90)" text-anchor="middle" font-size="27.5" font-style="italic" font-weight="normal" stroke="#231f20" stroke-width="0.95" fill="#231f20" textLength="203" lengthAdjust="spacingAndGlyphs">Betacoronavirus</text>
<text transform="translate(1273.2,1338) rotate(-90)" text-anchor="middle" font-size="27.5" font-style="italic" font-weight="normal" stroke="#231f20" stroke-width="0.95" fill="#231f20" textLength="221" lengthAdjust="spacingAndGlyphs">Alphacoronavirus</text>
<path d="M181.2,1555.2 V1797.8" stroke="#231f20" stroke-width="2.3" fill="none"/>
<path d="M180,1796.6 H455.8" stroke="#231f20" stroke-width="2.5" fill="none"/>
<path d="M169.5,1555.6 H181" stroke="#231f20" stroke-width="2.2"/>
<text x="165.5" y="1561.0" font-size="20.3" font-weight="normal" stroke="#231f20" stroke-width="0.85" fill="#231f20" text-anchor="end">0.55</text>
<path d="M169.5,1596.5 H181" stroke="#231f20" stroke-width="2.2"/>
<text x="165.5" y="1601.9" font-size="20.3" font-weight="normal" stroke="#231f20" stroke-width="0.85" fill="#231f20" text-anchor="end">0.50</text>
<path d="M169.5,1636.5 H181" stroke="#231f20" stroke-width="2.2"/>
<text x="165.5" y="1641.9" font-size="20.3" font-weight="normal" stroke="#231f20" stroke-width="0.85" fill="#231f20" text-anchor="end">0.45</text>
<path d="M169.5,1676.7 H181" stroke="#231f20" stroke-width="2.2"/>
<text x="165.5" y="1682.1" font-size="20.3" font-weight="normal" stroke="#231f20" stroke-width="0.85" fill="#231f20" text-anchor="end">0.40</text>
<path d="M169.5,1716.8 H181" stroke="#231f20" stroke-width="2.2"/>
<text x="165.5" y="1722.2" font-size="20.3" font-weight="normal" stroke="#231f20" stroke-width="0.85" fill="#231f20" text-anchor="end">0.35</text>
<path d="M169.5,1757 H181" stroke="#231f20" stroke-width="2.2"/>
<text x="165.5" y="1762.4" font-size="20.3" font-weight="normal" stroke="#231f20" stroke-width="0.85" fill="#231f20" text-anchor="end">0.30</text>
<path d="M169.5,1797 H181" stroke="#231f20" stroke-width="2.2"/>
<text x="165.5" y="1802.4" font-size="20.3" font-weight="normal" stroke="#231f20" stroke-width="0.85" fill="#231f20" text-anchor="end">0.25</text>
<rect x="196.1" y="1674.0" width="20.9" height="122.6" fill="#2e3192" stroke="#231f20" stroke-width="1.6"/>
<path d="M207.1,1797 V1805.5" stroke="#231f20" stroke-width="2.2"/>
<text transform="translate(210.2,1811.3) rotate(-90) scale(1,0.88)" text-anchor="end" font-size="22.6" font-weight="normal" stroke="#231f20" stroke-width="0.8" fill="#231f20">hum</text>
<rect x="233.0" y="1675.0" width="20.9" height="121.6" fill="#828387" stroke="#231f20" stroke-width="1.6"/>
<path d="M243.9,1797 V1805.5" stroke="#231f20" stroke-width="2.2"/>
<text transform="translate(247.0,1811.3) rotate(-90) scale(1,0.88)" text-anchor="end" font-size="22.6" font-weight="normal" stroke="#231f20" stroke-width="0.8" fill="#231f20">pang</text>
<rect x="269.9" y="1657.0" width="20.7" height="139.6" fill="#828387" stroke="#231f20" stroke-width="1.6"/>
<path d="M280.8,1797 V1805.5" stroke="#231f20" stroke-width="2.2"/>
<text transform="translate(283.9,1811.3) rotate(-90) scale(1,0.88)" text-anchor="end" font-size="22.6" font-weight="normal" stroke="#231f20" stroke-width="0.8" fill="#231f20">rat</text>
<rect x="307.2" y="1634.8" width="20.5" height="161.8" fill="#828387" stroke="#231f20" stroke-width="1.6"/>
<path d="M317.9,1797 V1805.5" stroke="#231f20" stroke-width="2.2"/>
<text transform="translate(321.1,1811.3) rotate(-90) scale(1,0.88)" text-anchor="end" font-size="22.6" font-weight="normal" stroke="#231f20" stroke-width="0.8" fill="#231f20">pig</text>
<rect x="344.1" y="1631.1" width="20.7" height="165.5" fill="#828387" stroke="#231f20" stroke-width="1.6"/>
<path d="M355.0,1797 V1805.5" stroke="#231f20" stroke-width="2.2"/>
<text transform="translate(358.1,1811.3) rotate(-90) scale(1,0.88)" text-anchor="end" font-size="22.6" font-weight="normal" stroke="#231f20" stroke-width="0.8" fill="#231f20">cow</text>
<rect x="381.3" y="1623.1" width="20.6" height="173.5" fill="#828387" stroke="#231f20" stroke-width="1.6"/>
<path d="M392.1,1797 V1805.5" stroke="#231f20" stroke-width="2.2"/>
<text transform="translate(395.2,1811.3) rotate(-90) scale(1,0.88)" text-anchor="end" font-size="22.6" font-weight="normal" stroke="#231f20" stroke-width="0.8" fill="#231f20">cam</text>
<rect x="418.4" y="1624.1" width="20.7" height="172.5" fill="#ec1c24" stroke="#231f20" stroke-width="1.6"/>
<path d="M429.2,1797 V1805.5" stroke="#231f20" stroke-width="2.2"/>
<text transform="translate(432.4,1811.3) rotate(-90) scale(1,0.88)" text-anchor="end" font-size="22.6" font-weight="normal" stroke="#231f20" stroke-width="0.8" fill="#231f20">bat</text>
<text transform="translate(76.4,1685.5) rotate(-90)" text-anchor="middle" font-size="22" font-weight="normal" stroke="#231f20" stroke-width="0.7" fill="#231f20" textLength="129" lengthAdjust="spacingAndGlyphs">Mean mRNA</text>
<text transform="translate(101.2,1686.6) rotate(-90)" text-anchor="middle" font-size="22.5" font-weight="normal" stroke="#231f20" stroke-width="0.7" fill="#231f20" textLength="186" lengthAdjust="spacingAndGlyphs">CpG suppression</text>
<ellipse cx="0" cy="0" rx="68" ry="14" fill="#d3ebf4" transform="translate(835,1590.5) rotate(-32)"/>
<ellipse cx="0" cy="0" rx="13.6" ry="7.9" fill="#f5f29e" transform="translate(875.6,1605.1) rotate(0)"/>
<ellipse cx="0" cy="0" rx="31.5" ry="14" fill="#c3e2bd" transform="translate(718.4,1637.1) rotate(-28)"/>
<ellipse cx="0" cy="0" rx="21" ry="13.5" fill="#d2d2d2" transform="translate(766.4,1660.5) rotate(-52)"/>
<ellipse cx="0" cy="0" rx="21" ry="14.5" fill="#f6d3de" transform="translate(817.6,1649.5) rotate(0)"/>
<ellipse cx="0" cy="0" rx="31" ry="9.5" fill="#f5cba5" transform="translate(620.1,1714.7) rotate(-25)"/>
<ellipse cx="0" cy="0" rx="46.5" ry="10.5" fill="#cbaed8" transform="translate(731.2,1699.5) rotate(-22.5)"/>
<ellipse cx="0" cy="0" rx="23" ry="9.8" fill="#f3f095" transform="translate(629.3,1766.6) rotate(-8)"/>
<ellipse cx="0" cy="0" rx="44" ry="10.5" fill="#f7d4df" transform="translate(697.4,1777.1) rotate(-14)"/>
<path d="M585.5,1545.3 V1798.8" stroke="#231f20" stroke-width="2.3" fill="none"/>
<path d="M584.5,1797.8 H893.1" stroke="#231f20" stroke-width="2.3" fill="none"/>
<path d="M576.7,1547 H585.5" stroke="#231f20" stroke-width="2.2"/>
<text x="573.2" y="1556.5" font-size="19.3" font-weight="normal" stroke="#231f20" stroke-width="0.85" fill="#231f20" text-anchor="end">0.025</text>
<path d="M576.7,1630 H585.5" stroke="#231f20" stroke-width="2.2"/>
<text x="573.2" y="1639.5" font-size="19.3" font-weight="normal" stroke="#231f20" stroke-width="0.85" fill="#231f20" text-anchor="end">0.020</text>
<path d="M576.7,1713.4 H585.5" stroke="#231f20" stroke-width="2.2"/>
<text x="573.2" y="1722.9" font-size="19.3" font-weight="normal" stroke="#231f20" stroke-width="0.85" fill="#231f20" text-anchor="end">0.015</text>
<path d="M576.7,1796.5 H585.5" stroke="#231f20" stroke-width="2.2"/>
<text x="573.2" y="1806.0" font-size="19.3" font-weight="normal" stroke="#231f20" stroke-width="0.85" fill="#231f20" text-anchor="end">0.010</text>
<path d="M602.9,1797.8 V1807.5" stroke="#231f20" stroke-width="2.2"/>
<text x="602.9" y="1829.5" font-size="19.3" font-weight="normal" stroke="#231f20" stroke-width="0.85" fill="#231f20" text-anchor="middle">0.40</text>
<path d="M688.2,1797.8 V1807.5" stroke="#231f20" stroke-width="2.2"/>
<text x="688.2" y="1829.5" font-size="19.3" font-weight="normal" stroke="#231f20" stroke-width="0.85" fill="#231f20" text-anchor="middle">0.45</text>
<path d="M773.4,1797.8 V1807.5" stroke="#231f20" stroke-width="2.2"/>
<text x="773.4" y="1829.5" font-size="19.3" font-weight="normal" stroke="#231f20" stroke-width="0.85" fill="#231f20" text-anchor="middle">0.50</text>
<path d="M858.7,1797.8 V1807.5" stroke="#231f20" stroke-width="2.2"/>
<text x="858.7" y="1829.5" font-size="19.3" font-weight="normal" stroke="#231f20" stroke-width="0.85" fill="#231f20" text-anchor="middle">0.55</text>
<text x="728.3" y="1866" font-size="22.5" font-weight="bold" fill="#231f20" text-anchor="middle">CpG suppression</text>
<text transform="translate(508.2,1664) rotate(-90)" text-anchor="middle" font-size="22.5" font-weight="bold" fill="#231f20">CpG frequency</text>
<text x="758" y="1561.8" font-size="18" font-weight="bold" fill="#231f20">MERS-CoV</text>
<text x="662.5" y="1611.5" font-size="18" font-weight="bold" fill="#231f20">SARS-CoV</text>
<text x="600" y="1673.2" font-size="18" font-weight="bold" fill="#e0383c">SARS</text>
<text x="601" y="1693.4" font-size="18" font-weight="bold" fill="#e0383c">CoV-2</text>
<text x="711" y="1672.1" font-size="15.3" font-weight="bold" fill="#231f20">229E</text>
<text x="801" y="1686.7" font-size="15.3" font-weight="bold" fill="#231f20">rodHKU1</text>
<text x="849.5" y="1632.4" font-size="15.3" font-weight="bold" fill="#231f20">batNL63</text>
<text x="735.5" y="1724.5" font-size="15.3" font-weight="bold" fill="#231f20">OC43</text>
<text x="648" y="1755.8" font-size="15.3" font-weight="bold" fill="#231f20">hNL63</text>
<text x="738.5" y="1785" font-size="15.3" font-weight="bold" fill="#231f20">hHKU1</text>
<path d="M793.8,1621.2949999999998 L803.2,1621.2949999999998 L798.5,1612.835 Z" fill="none" stroke="#3b3591" stroke-width="1.5" stroke-linejoin="miter"/>
<path d="M806.6999999999999,1597.995 L816.1,1597.995 L811.4,1589.535 Z" fill="none" stroke="#3b3591" stroke-width="1.5" stroke-linejoin="miter"/>
<path d="M869.3,1568.495 L878.7,1568.495 L874,1560.035 Z" fill="#8fb4d9" stroke="#7aa0c8" stroke-width="1.4" stroke-linejoin="miter"/>
<path d="M873.5999999999999,1567.7949999999998 L883.0,1567.7949999999998 L878.3,1559.335 Z" fill="#8fb4d9" stroke="#7aa0c8" stroke-width="1.4" stroke-linejoin="miter"/>
<path d="M877.2,1565.53 L880.8,1565.53 L879,1562.29 Z" fill="#2b2a6e" stroke="#2b2a6e" stroke-width="0.5" stroke-linejoin="miter"/>
<path d="M854.5,1573.75 L864.5,1573.75 L859.5,1564.75 Z" fill="#2b2a6e" stroke="#231f20" stroke-width="1.6" stroke-linejoin="miter"/>
<path d="M860.5,1573.05 L870.5,1573.05 L865.5,1564.05 Z" fill="#4a3a96" stroke="#231f20" stroke-width="1.6" stroke-linejoin="miter"/>
<polygon points="878.00,1605.30 875.80,1609.11 871.40,1609.11 869.20,1605.30 871.40,1601.49 875.80,1601.49" fill="none" stroke="#b9b92a" stroke-width="1.6"/>
<rect x="729.3000000000001" y="1623.3" width="9.6" height="9.6" fill="none" stroke="#4ab04a" stroke-width="1.9"/>
<rect x="721.2" y="1627.7" width="9.6" height="9.6" fill="none" stroke="#4ab04a" stroke-width="1.9"/>
<rect x="718.2" y="1629.6000000000001" width="9.6" height="9.6" fill="none" stroke="#4ab04a" stroke-width="1.9"/>
<rect x="713.5" y="1635.4" width="9.6" height="9.6" fill="none" stroke="#4ab04a" stroke-width="1.9"/>
<rect x="704.9000000000001" y="1637.6000000000001" width="9.6" height="9.6" fill="#4ab04a" stroke="#4ab04a" stroke-width="1.9"/>
<rect x="702.0" y="1638.5" width="9.6" height="9.6" fill="#4ab04a" stroke="#231f20" stroke-width="2.1"/>
<rect x="699.8000000000001" y="1640.5" width="9.6" height="9.6" fill="#4ab04a" stroke="#231f20" stroke-width="2.1"/>
<circle cx="774" cy="1648.2" r="4.8" fill="#d8d8d8" stroke="#8a8a8a" stroke-width="2"/>
<circle cx="766" cy="1654.5" r="4.8" fill="#d8d8d8" stroke="#8a8a8a" stroke-width="2"/>
<circle cx="773.6" cy="1660" r="4.8" fill="#a8a8a8" stroke="#8a8a8a" stroke-width="1.8"/>
<circle cx="764.5" cy="1664.5" r="4.9" fill="#6f6f6f" stroke="#231f20" stroke-width="2"/>
<circle cx="759.5" cy="1672.2" r="4.9" fill="#6f6f6f" stroke="#231f20" stroke-width="2"/>
<circle cx="754.5" cy="1671.8" r="4.9" fill="#6f6f6f" stroke="#231f20" stroke-width="2"/>
<path d="M807.9,1645.3 L812.9,1650.3 L807.9,1655.3 L802.9,1650.3 Z" fill="none" stroke="#e27a9c" stroke-width="1.5"/>
<path d="M824.8,1636.8 L829.8,1641.8 L824.8,1646.8 L819.8,1641.8 Z" fill="none" stroke="#e27a9c" stroke-width="1.5"/>
<path d="M820,1652.6 L825,1657.6 L820,1662.6 L815,1657.6 Z" fill="none" stroke="#e27a9c" stroke-width="1.5"/>
<circle cx="597.7" cy="1723.5" r="4.9" fill="#f8d8c0" stroke="#d9502e" stroke-width="1.6"/>
<circle cx="616.5" cy="1720.5" r="4.9" fill="#e06040" stroke="#231f20" stroke-width="2"/>
<circle cx="622.6" cy="1717.4" r="5" fill="#f4a0a5" stroke="#f08a90" stroke-width="1.2"/>
<path d="M623.5,1713.2 A4.2,4.2 0 0 1 623.5,1721.6 Z" fill="#e0403a"/>
<circle cx="637.7" cy="1705.3" r="5" fill="#f4a0a5" stroke="#d9502e" stroke-width="1.7"/>
<circle cx="635.3" cy="1709.5" r="5" fill="#f4a0a5" stroke="#f08a90" stroke-width="1.2"/>
<path d="M636,1705.3 A4.2,4.2 0 0 1 636,1713.7 Z" fill="#e0403a"/>
<path d="M743.1,1684.29 L752.3000000000001,1684.29 L747.7,1692.57 Z" fill="#dcb8ec" stroke="#7b3fa8" stroke-width="1.5" stroke-linejoin="miter"/>
<path d="M750.4,1683.79 L759.6,1683.79 L755,1692.07 Z" fill="#dcb8ec" stroke="#7b3fa8" stroke-width="1.5" stroke-linejoin="miter"/>
<path d="M758.3,1683.09 L767.5,1683.09 L762.9,1691.37 Z" fill="#dcb8ec" stroke="#7b3fa8" stroke-width="1.5" stroke-linejoin="miter"/>
<path d="M735.4,1687.8899999999999 L744.6,1687.8899999999999 L740,1696.1699999999998 Z" fill="#9f7cc0" stroke="#9f7cc0" stroke-width="1.2" stroke-linejoin="miter"/>
<path d="M716.4,1695.09 L725.6,1695.09 L721,1703.37 Z" fill="#9f7cc0" stroke="#9f7cc0" stroke-width="1.2" stroke-linejoin="miter"/>
<path d="M721.8,1696.09 L731.0,1696.09 L726.4,1704.37 Z" fill="#9f7cc0" stroke="#9f7cc0" stroke-width="1.2" stroke-linejoin="miter"/>
<path d="M701.6,1708.52 L711.1999999999999,1708.52 L706.4,1717.1599999999999 Z" fill="#6a3a96" stroke="#231f20" stroke-width="1.8" stroke-linejoin="miter"/>
<path d="M705.2,1707.22 L714.8,1707.22 L710,1715.86 Z" fill="#6a3a96" stroke="#231f20" stroke-width="1.8" stroke-linejoin="miter"/>
<path d="M716.2,1703.1200000000001 L725.8,1703.1200000000001 L721,1711.76 Z" fill="#6a3a96" stroke="#231f20" stroke-width="1.8" stroke-linejoin="miter"/>
<path d="M735.2,1695.1200000000001 L744.8,1695.1200000000001 L740,1703.76 Z" fill="#6a3a96" stroke="#231f20" stroke-width="1.8" stroke-linejoin="miter"/>
<polygon points="623.10,1768.90 620.95,1772.62 616.65,1772.62 614.50,1768.90 616.65,1765.18 620.95,1765.18" fill="#a8b030" stroke="#231f20" stroke-width="1.7"/>
<polygon points="632.70,1765.50 630.55,1769.22 626.25,1769.22 624.10,1765.50 626.25,1761.78 630.55,1761.78" fill="#a8b030" stroke="#231f20" stroke-width="1.7"/>
<polygon points="640.70,1763.20 638.55,1766.92 634.25,1766.92 632.10,1763.20 634.25,1759.48 638.55,1759.48" fill="#a8b030" stroke="#231f20" stroke-width="1.7"/>
<polygon points="644.10,1765.50 641.95,1769.22 637.65,1769.22 635.50,1765.50 637.65,1761.78 641.95,1761.78" fill="#a8b030" stroke="#231f20" stroke-width="1.7"/>
<path d="M673.9,1777.0 L678.8,1781.9 L673.9,1786.8000000000002 L669.0,1781.9 Z" fill="#e0608a" stroke="#231f20" stroke-width="1.7"/>
<path d="M702.5,1767.6 L707.4,1772.5 L702.5,1777.4 L697.6,1772.5 Z" fill="#e0608a" stroke="#231f20" stroke-width="1.7"/>
<path d="M704.3,1769.3999999999999 L709.1999999999999,1774.3 L704.3,1779.2 L699.4,1774.3 Z" fill="#e0608a" stroke="#231f20" stroke-width="1.7"/>
<path d="M719.3,1765.1 L724.1999999999999,1770 L719.3,1774.9 L714.4,1770 Z" fill="#e0608a" stroke="#231f20" stroke-width="1.7"/>
<rect x="932.9" y="1574.10" width="340" height="28.51" fill="#f6cba6"/>
<rect x="932.9" y="1602.31" width="340" height="28.51" fill="#c9e6c1"/>
<rect x="932.9" y="1630.52" width="340" height="28.51" fill="#d8ecf3"/>
<rect x="932.9" y="1658.73" width="340" height="28.51" fill="#d3b9db"/>
<rect x="932.9" y="1686.94" width="340" height="28.51" fill="#d4d4d4"/>
<rect x="932.9" y="1715.15" width="340" height="28.51" fill="#fdf6b2"/>
<rect x="932.9" y="1743.36" width="340" height="28.51" fill="#f9dae1"/>
<text x="933" y="1595.9" font-size="18" font-weight="bold" fill="#1c1c28">SARS-2:</text>
<text x="1027" y="1595.9" font-size="18" font-weight="bold" fill="#1c1c28">human</text>
<text x="1115.7" y="1595.9" font-size="18" font-weight="bold" fill="#1c1c28">bat</text>
<text x="1196.5" y="1595.9" font-size="18" font-weight="bold" fill="#1c1c28">pangolin</text>
<text x="933" y="1624.1" font-size="18" font-weight="bold" fill="#1c1c28">SARS:</text>
<text x="1027" y="1624.1" font-size="18" font-weight="bold" fill="#1c1c28">human</text>
<text x="1115.7" y="1624.1" font-size="18" font-weight="bold" fill="#1c1c28">civet</text>
<text x="1196.5" y="1624.1" font-size="18" font-weight="bold" fill="#1c1c28">bat</text>
<text x="933" y="1652.3" font-size="18" font-weight="bold" fill="#1c1c28">MERS:</text>
<text x="1027" y="1652.3" font-size="18" font-weight="bold" fill="#1c1c28">human</text>
<text x="1115.7" y="1652.3" font-size="18" font-weight="bold" fill="#1c1c28">camel</text>
<text x="1196.5" y="1652.3" font-size="18" font-weight="bold" fill="#1c1c28">bat</text>
<text x="933" y="1680.5" font-size="18" font-weight="bold" fill="#1c1c28">OC43:</text>
<text x="1027" y="1680.5" font-size="18" font-weight="bold" fill="#1c1c28">human</text>
<text x="1115.7" y="1680.5" font-size="18" font-weight="bold" fill="#1c1c28">bovine</text>
<text x="1196.5" y="1680.5" font-size="18" font-weight="bold" fill="#1c1c28">swine</text>
<text x="933" y="1708.7" font-size="18" font-weight="bold" fill="#1c1c28">229E:</text>
<text x="1027" y="1708.7" font-size="18" font-weight="bold" fill="#1c1c28">human</text>
<text x="1115.7" y="1708.7" font-size="18" font-weight="bold" fill="#1c1c28">camel</text>
<text x="1196.5" y="1708.7" font-size="18" font-weight="bold" fill="#1c1c28">bat</text>
<text x="933" y="1736.9" font-size="18" font-weight="bold" fill="#1c1c28">NL63:</text>
<text x="1027" y="1736.9" font-size="18" font-weight="bold" fill="#1c1c28">human</text>
<text x="1196.5" y="1736.9" font-size="18" font-weight="bold" fill="#1c1c28">bat</text>
<text x="933" y="1765.2" font-size="18" font-weight="bold" fill="#1c1c28">HKU1:</text>
<text x="1027" y="1765.2" font-size="18" font-weight="bold" fill="#1c1c28">human</text>
<text x="1196.5" y="1765.2" font-size="18" font-weight="bold" fill="#1c1c28">rodent</text>
<circle cx="1013" cy="1589.8" r="6.3" fill="#e8442e" stroke="#231f20" stroke-width="1.6"/>
<circle cx="1101" cy="1589.8" r="6.5" fill="#f19a9f" stroke="#f19a9f" stroke-width="1"/>
<path d="M1101,1585.3 A4.5,4.5 0 0 1 1101,1594.3 Z" fill="#d0303a"/>
<circle cx="1182" cy="1589.8" r="6" fill="none" stroke="#e8452c" stroke-width="1.8"/>
<rect x="1006.4" y="1611.41" width="13.2" height="13.2" fill="#4ab04a" stroke="#231f20" stroke-width="2"/>
<rect x="1094.2" y="1610.4" width="14.6" height="15" fill="#4db74a"/>
<rect x="1097.5" y="1613.5" width="3.2" height="9" fill="#e6f5e0"/>
<rect x="1175.8" y="1611.81" width="12.4" height="12.4" fill="none" stroke="#4ab04a" stroke-width="1.8"/>
<path d="M1005.8,1652.34 L1020.2,1652.34 L1013,1639.38 Z" fill="#3b2d8c" stroke="#3b2d8c" stroke-width="0.8" stroke-linejoin="miter"/>
<path d="M1093.8,1652.34 L1108.2,1652.34 L1101,1639.38 Z" fill="#8fb4d9" stroke="#8fb4d9" stroke-width="0.8" stroke-linejoin="miter"/>
<path d="M1098.5,1650.77 L1104.5,1650.77 L1101.5,1645.3700000000001 Z" fill="#2b2a6e" stroke="#2b2a6e" stroke-width="0.5" stroke-linejoin="miter"/>
<path d="M1175.2,1652.0 L1188.8,1652.0 L1182,1639.76 Z" fill="none" stroke="#3b3591" stroke-width="1.7" stroke-linejoin="miter"/>
<path d="M1005.8,1668.3100000000002 L1020.2,1668.3100000000002 L1013,1681.27 Z" fill="#4a2178" stroke="#4a2178" stroke-width="0.8" stroke-linejoin="miter"/>
<path d="M1093.8,1668.3100000000002 L1108.2,1668.3100000000002 L1101,1681.27 Z" fill="#9f7cc0" stroke="#9f7cc0" stroke-width="0.8" stroke-linejoin="miter"/>
<path d="M1098.5,1669.88 L1104.5,1669.88 L1101.5,1675.28 Z" fill="#4a2178" stroke="#4a2178" stroke-width="0.5" stroke-linejoin="miter"/>
<path d="M1175.2,1668.65 L1188.8,1668.65 L1182,1680.89 Z" fill="none" stroke="#7b3fa8" stroke-width="1.7" stroke-linejoin="miter"/>
<circle cx="1013" cy="1702.6399999999999" r="6.3" fill="#777" stroke="#231f20" stroke-width="1.6"/>
<circle cx="1101" cy="1702.6399999999999" r="6.3" fill="#bdbdbd" stroke="#9a9a9a" stroke-width="1.6"/>
<path d="M1101,1697.6 A5,5 0 0 1 1101,1707.6 Z" fill="#7a7a7a"/>
<circle cx="1182" cy="1702.6399999999999" r="6" fill="none" stroke="#9a9a9a" stroke-width="1.6"/>
<polygon points="1019.80,1730.85 1016.40,1736.74 1009.60,1736.74 1006.20,1730.85 1009.60,1724.96 1016.40,1724.96" fill="#b5b82e" stroke="#231f20" stroke-width="1.7"/>
<polygon points="1188.30,1730.85 1185.15,1736.31 1178.85,1736.31 1175.70,1730.85 1178.85,1725.39 1185.15,1725.39" fill="none" stroke="#b0b030" stroke-width="1.6"/>
<path d="M1013,1752.56 L1019.5,1759.06 L1013,1765.56 L1006.5,1759.06 Z" fill="#e0608a" stroke="#231f20" stroke-width="1.7"/>
<path d="M1182,1752.56 L1188.5,1759.06 L1182,1765.56 L1175.5,1759.06 Z" fill="none" stroke="#e27a9c" stroke-width="1.7"/>
</svg></body></html>
